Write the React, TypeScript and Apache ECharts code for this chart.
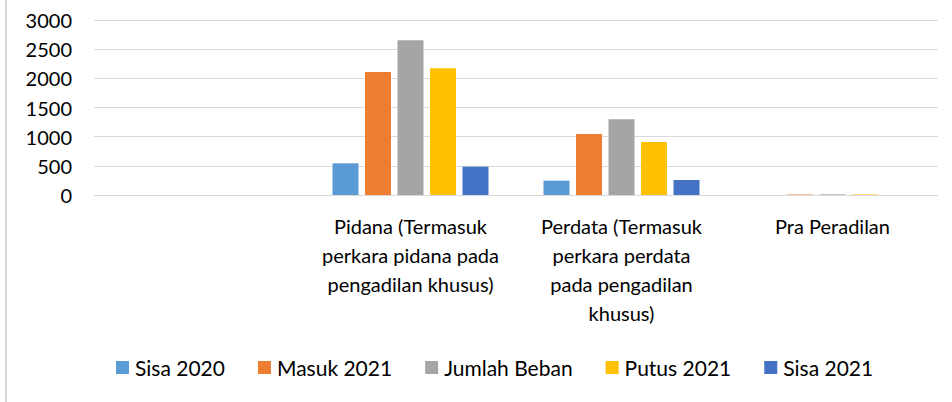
import React, { useEffect, useRef } from "react";
import * as echarts from "echarts";

const categories = [
  "",
  "Pidana (Termasuk\nperkara pidana pada\npengadilan khusus)",
  "Perdata (Termasuk\nperkara perdata\npada pengadilan\nkhusus)",
  "Pra Peradilan",
];
const seriesNames = ["Sisa 2020", "Masuk 2021", "Jumlah Beban", "Putus 2021", "Sisa 2021"];
const sisa2020 = [null, 543, 246, 0];
const masuk2021 = [null, 2110, 1046, 8];
const jumlahBeban = [null, 2655, 1297, 11];
const putus2021 = [null, 2171, 909, 9];
const sisa2021 = [null, 486, 257, 0];
const colors = ["#5B9BD5", "#ED7D31", "#A5A5A5", "#FFC000", "#4472C4"];

const FONT = "Lato";

export default function App() {
  const ref = useRef<HTMLDivElement>(null);
  useEffect(() => {
    if (!ref.current) return;
    const chart = echarts.init(ref.current, null, { renderer: "svg" });
    const values = [sisa2020, masuk2021, jumlahBeban, putus2021, sisa2021];
    chart.setOption({
      animation: false,
      color: colors,
      textStyle: { fontFamily: FONT },
      grid: { left: 94, right: 14, top: 20, bottom: 207, containLabel: false },
      xAxis: {
        type: "category",
        data: categories,
        axisLine: { show: true, lineStyle: { color: "#d9d9d9", width: 1 } },
        axisTick: { show: false },
        axisLabel: {
          interval: 0,
          margin: 16,
          color: "#000",
          fontSize: 20,
          fontFamily: FONT,
          lineHeight: 29,
          align: "center",
        },
      },
      yAxis: {
        type: "value",
        min: 0,
        max: 3000,
        interval: 500,
        axisLine: { show: false },
        axisTick: { show: false },
        splitLine: { lineStyle: { color: "#d9d9d9", width: 1 } },
        axisLabel: {
          margin: 22,
          color: "#000",
          fontSize: 20,
          fontFamily: FONT,
          formatter: (v: number) => String(v),
        },
      },
      legend: {
        data: seriesNames,
        left: 111,
        top: 352,
        icon: "rect",
        itemWidth: 13,
        itemHeight: 13,
        itemGap: 33,
        textStyle: { color: "#000", fontSize: 21, fontFamily: FONT, padding: [0, 0, 0, 1] },
      },
      graphic: [
        { type: "rect", shape: { x: 5, y: 0, width: 2, height: 402 }, style: { fill: "#d9d9d9" } },
      ],
      series: seriesNames.map((name, i) => ({
        name,
        type: "bar",
        data: values[i],
        barWidth: 26,
        barGap: "25%",
        itemStyle: { color: colors[i] },
      })),
    });
    return () => chart.dispose();
  }, []);
  return (
    <div
      ref={ref}
      style={{ position: "fixed", left: 0, top: 0, width: 952, height: 402, background: "#fff" }}
    />
  );
}
